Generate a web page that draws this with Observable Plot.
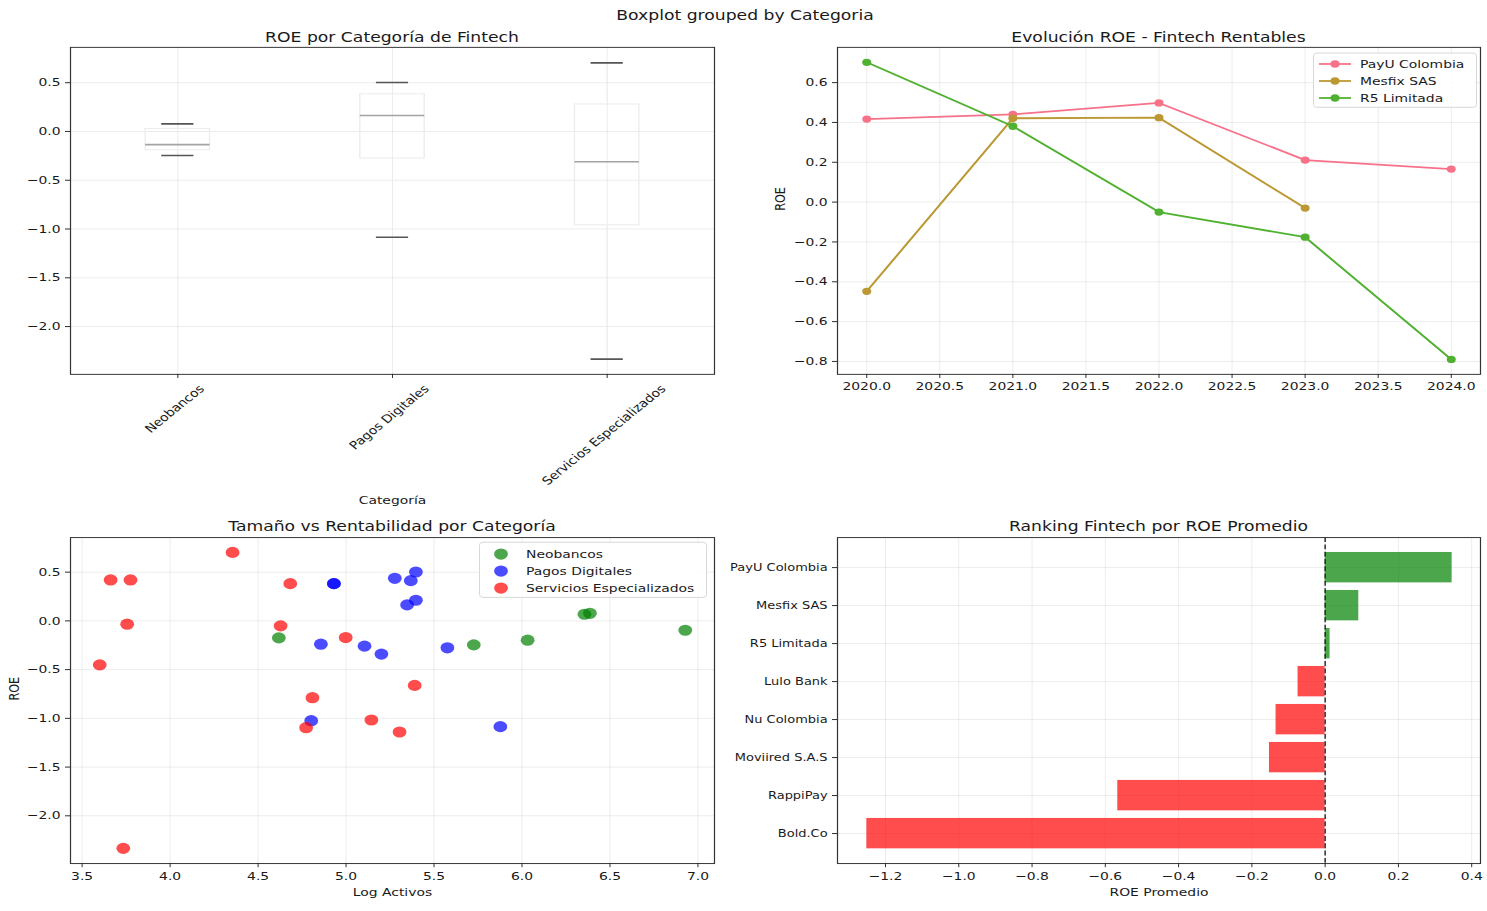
<!DOCTYPE html>
<html><head><meta charset="utf-8">
<script src="https://cdn.jsdelivr.net/npm/d3@7"></script>
<script src="https://cdn.jsdelivr.net/npm/@observablehq/plot@0.6"></script>
<style>
body{margin:0;background:#fff;}
#fig{position:relative;width:1487px;height:911px;overflow:hidden;background:#fff;}
#inner{position:absolute;left:0;top:0;width:1487px;transform-origin:0 0;font-family:"DejaVu Sans",sans-serif;color:#1a1a1a;}
.ttl{position:absolute;font-size:17.2px;line-height:20px;white-space:nowrap;transform:translate(-50%,-50%);}
.legend{position:absolute;background:rgba(255,255,255,0.85);border:1px solid #d4d4d4;border-radius:4px;box-sizing:border-box;font-size:13.9px;}
.legend .row{position:absolute;left:0;height:20px;line-height:20px;white-space:nowrap;}
.legend svg{position:absolute;left:0;top:0;}
.legend span{position:absolute;left:46px;top:0;}
</style></head><body><div id="fig"><div id="inner"></div></div>
<script>
// ---------- DATA ----------
const categories = ["Neobancos", "Pagos Digitales", "Servicios Especializados"];
const categoryColors = ["#008000", "#0000ff", "#ff0000"];

const neoLogActivos = [4.618, 5.726, 6.032, 6.355, 6.386, 6.928];
const neoROE = [-0.174, -0.246, -0.198, 0.068, 0.078, -0.096];
const pagosLogActivos = [4.931, 4.931, 5.277, 5.397, 5.368, 5.397, 5.347, 4.857, 5.105, 5.201, 5.576, 4.802, 5.877];
const pagosROE = [0.382, 0.382, 0.437, 0.502, 0.413, 0.212, 0.164, -0.239, -0.259, -0.341, -0.276, -1.024, -1.085];
const servLogActivos = [4.355, 3.662, 3.775, 4.683, 3.756, 4.628, 4.998, 3.600, 5.390, 4.809, 5.144, 4.773, 5.304, 3.734];
const servROE = [0.703, 0.420, 0.420, 0.382, -0.034, -0.051, -0.171, -0.451, -0.662, -0.788, -1.017, -1.096, -1.140, -2.334];

const seriesNames = ["PayU Colombia", "Mesfix SAS", "R5 Limitada"];
const seriesColors = ["#f77189", "#bb9832", "#50b131"];
const payuYears = [2020, 2021, 2022, 2023, 2024];
const payuROE = [0.417, 0.441, 0.498, 0.211, 0.166];
const mesfixYears = [2020, 2021, 2022, 2023];
const mesfixROE = [-0.448, 0.421, 0.424, -0.030];
const r5Years = [2020, 2021, 2022, 2023, 2024];
const r5ROE = [0.702, 0.381, -0.050, -0.176, -0.790];

const rankingNames = ["PayU Colombia", "Mesfix SAS", "R5 Limitada", "Lulo Bank", "Nu Colombia", "Moviired S.A.S", "RappiPay", "Bold.Co"];
const rankingROE = [0.3466, 0.0918, 0.0134, -0.074, -0.134, -0.152, -0.566, -1.251];

const boxYTicks = [-2.0, -1.5, -1.0, -0.5, 0.0, 0.5];
const lineXTicks = [2020, 2020.5, 2021, 2021.5, 2022, 2022.5, 2023, 2023.5, 2024];
const lineYTicks = [-0.8, -0.6, -0.4, -0.2, 0.0, 0.2, 0.4, 0.6];
const scatterXTicks = [3.5, 4.0, 4.5, 5.0, 5.5, 6.0, 6.5, 7.0];
const scatterYTicks = [-2.0, -1.5, -1.0, -0.5, 0.0, 0.5];
const barXTicks = [-1.2, -1.0, -0.8, -0.6, -0.4, -0.2, 0.0, 0.2, 0.4];

// ---------- LAYOUT HELPERS ----------
// The reference figure is vertically compressed; draw at full height and squash.
const S = 0.81;
const Y = v => v / S;
const inner = document.getElementById("inner");
inner.style.height = Y(911) + "px";
inner.style.transform = `scale(1, ${S})`;

const fmt1 = d3.format(".1f");
const FONT = '"DejaVu Sans", sans-serif';
const style = {fontFamily: FONT, fontSize: "13.9px", color: "#1a1a1a", background: "transparent"};
const gridStyle = {stroke: "#000", strokeOpacity: 0.085, strokeWidth: 1};
const TICK = {tickSize: 5, tickPadding: 4.9};
function box(top, bottom, frameTop, frameBottom) {
  return {top: Y(top), height: Y(bottom) - Y(top), marginTop: Y(frameTop) - Y(top), marginBottom: Y(bottom) - Y(frameBottom)};
}
function place(svg, left, top) {
  svg.style.position = "absolute"; svg.style.left = left + "px"; svg.style.top = top + "px";
  svg.style.maxWidth = "none";
  inner.appendChild(svg);
}
function title(text, cx, cy) { const d = document.createElement("div"); d.className = "ttl"; d.textContent = text; d.style.left = cx + "px"; d.style.top = Y(cy) + "px"; inner.appendChild(d); }
function legend(left, top, w, h, names, drawSwatch, rowCenters) {
  const b = document.createElement("div"); b.className = "legend";
  Object.assign(b.style, {left: left + "px", top: Y(top) + "px", width: w + "px", height: Y(h) + "px"});
  names.forEach((n, i) => {
    const row = document.createElement("div"); row.className = "row";
    row.style.top = (Y(rowCenters[i]) - Y(top) - 10) + "px"; row.style.width = w + "px";
    row.innerHTML = `<svg width="44" height="20">${drawSwatch(i)}</svg><span>${n}</span>`;
    b.appendChild(row);
  });
  inner.appendChild(b);
}

// ---------- PANEL 1: BOXPLOT ----------
const roeByCat = [neoROE, pagosROE, servROE];
function stats(vals) {
  const s = d3.sort(vals);
  const q1 = d3.quantileSorted(s, 0.25), med = d3.quantileSorted(s, 0.5), q3 = d3.quantileSorted(s, 0.75);
  const iqr = q3 - q1;
  return {q1, med, q3, lo: d3.min(s.filter(v => v >= q1 - 1.5 * iqr)), hi: d3.max(s.filter(v => v <= q3 + 1.5 * iqr))};
}
const boxStats = categories.map((c, i) => ({cat: c, pos: i + 1, ...stats(roeByCat[i])}));
const ctx = document.createElement("canvas").getContext("2d");
ctx.font = '13.9px "DejaVu Sans"';
const catLabelMarks = categories.map((c, i) => {
  const L = ctx.measureText(c).width;
  const dy = 13 + (L + 16) * Math.SQRT1_2 / 2;
  return Plot.text([c], {x: () => i + 1, frameAnchor: "bottom", dy, rotate: -45, text: d => d, textAnchor: "middle", fontSize: 13.9, fill: "#1a1a1a"});
});
const b1 = box(30, 515, 47, 374);
place(Plot.plot({
  width: 730, height: b1.height, marginLeft: 70, marginRight: 16, marginTop: b1.marginTop, marginBottom: b1.marginBottom,
  style,
  x: {domain: [0.5, 3.5], label: null},
  y: {domain: [-2.49, 0.862], label: null},
  marks: [
    Plot.gridX(boxStats.map(d => d.pos), gridStyle),
    Plot.gridY(boxYTicks, gridStyle),
    Plot.ruleX(boxStats, {x: "pos", y1: "lo", y2: "q1", stroke: "#ececec"}),
    Plot.ruleX(boxStats, {x: "pos", y1: "q3", y2: "hi", stroke: "#ececec"}),
    Plot.rect(boxStats, {x1: d => d.pos - 0.15, x2: d => d.pos + 0.15, y1: "q1", y2: "q3", fill: "none", stroke: "#ececec", strokeWidth: 1.3}),
    Plot.ruleY(boxStats, {y: "med", x1: d => d.pos - 0.15, x2: d => d.pos + 0.15, stroke: "#a3a3a3", strokeWidth: 2}),
    Plot.ruleY(boxStats, {y: "lo", x1: d => d.pos - 0.075, x2: d => d.pos + 0.075, stroke: "#555", strokeWidth: 2}),
    Plot.ruleY(boxStats, {y: "hi", x1: d => d.pos - 0.075, x2: d => d.pos + 0.075, stroke: "#555", strokeWidth: 2}),
    Plot.frame({stroke: "#333", strokeWidth: 1.2}),
    Plot.axisY({ticks: boxYTicks, tickFormat: fmt1, ...TICK, label: null}),
    Plot.axisX({ticks: boxStats.map(d => d.pos), tickFormat: () => "", ...TICK, label: null}),
    ...catLabelMarks,
    Plot.text(["Categoría"], {frameAnchor: "bottom", dy: Y(504) - Y(374), text: d => d, fontSize: 13.9, fill: "#1a1a1a"})
  ]
}), 0, b1.top);

// ---------- PANEL 2: LINES ----------
const seriesData = [
  payuYears.map((y, i) => ({series: seriesNames[0], year: y, roe: payuROE[i]})),
  mesfixYears.map((y, i) => ({series: seriesNames[1], year: y, roe: mesfixROE[i]})),
  r5Years.map((y, i) => ({series: seriesNames[2], year: y, roe: r5ROE[i]}))
];
const b2 = box(30, 405, 47, 374);
place(Plot.plot({
  width: 727, height: b2.height, marginLeft: 77, marginRight: 7, marginTop: b2.marginTop, marginBottom: b2.marginBottom,
  style,
  x: {domain: [2019.8, 2024.2], label: null},
  y: {domain: [-0.865, 0.777], label: null},
  marks: [
    Plot.gridX(lineXTicks, gridStyle),
    Plot.gridY(lineYTicks, gridStyle),
    ...seriesData.flatMap((data, i) => [
      Plot.line(data, {x: "year", y: "roe", stroke: seriesColors[i], strokeWidth: 2.2}),
      Plot.dot(data, {x: "year", y: "roe", fill: seriesColors[i], r: 4.5})
    ]),
    Plot.frame({stroke: "#333", strokeWidth: 1.2}),
    Plot.axisY({ticks: lineYTicks, tickFormat: fmt1, ...TICK, label: null}),
    Plot.axisX({ticks: lineXTicks, tickFormat: fmt1, ...TICK, label: null}),
    Plot.text(["ROE"], {frameAnchor: "left", dx: -57, rotate: -90, text: d => d, fontSize: 13.9, fill: "#1a1a1a"})
  ]
}), 760, b2.top);

// ---------- PANEL 3: SCATTER ----------
const xs = [neoLogActivos, pagosLogActivos, servLogActivos];
const ys = [neoROE, pagosROE, servROE];
const scatterData = categories.flatMap((c, k) => xs[k].map((x, i) => ({cat: c, x, roe: ys[k][i], color: categoryColors[k]})));
const b3 = box(515, 911, 537, 863);
place(Plot.plot({
  width: 730, height: b3.height, marginLeft: 70, marginRight: 16, marginTop: b3.marginTop, marginBottom: b3.marginBottom,
  style,
  x: {domain: [3.434, 7.094], label: null},
  y: {domain: [-2.49, 0.855], label: null},
  marks: [
    Plot.gridX(scatterXTicks, gridStyle),
    Plot.gridY(scatterYTicks, gridStyle),
    Plot.dot(scatterData, {x: "x", y: "roe", fill: "color", fillOpacity: 0.7, r: 6.9}),
    Plot.frame({stroke: "#333", strokeWidth: 1.2}),
    Plot.axisY({ticks: scatterYTicks, tickFormat: fmt1, ...TICK, label: null}),
    Plot.axisX({ticks: scatterXTicks, tickFormat: fmt1, ...TICK, label: null}),
    Plot.text(["Log Activos"], {frameAnchor: "bottom", dy: Y(895) - Y(863), text: d => d, fontSize: 13.9, fill: "#1a1a1a"}),
    Plot.text(["ROE"], {frameAnchor: "left", dx: -56, rotate: -90, text: d => d, fontSize: 13.9, fill: "#1a1a1a"})
  ]
}), 0, b3.top);

// ---------- PANEL 4: BARS ----------
const rankData = rankingNames.map((n, i) => ({name: n, roe: rankingROE[i]}));
const b4 = box(515, 911, 537, 863);
place(Plot.plot({
  width: 767, height: b4.height, marginLeft: 117, marginRight: 7, marginTop: b4.marginTop, marginBottom: b4.marginBottom,
  style,
  x: {domain: [-1.331, 0.424], label: null},
  y: {domain: rankingNames, paddingInner: 0.2, paddingOuter: 0.39, round: false, label: null},
  marks: [
    Plot.gridX(barXTicks, gridStyle),
    Plot.gridY(rankingNames, gridStyle),
    Plot.barX(rankData, {x: "roe", y: "name", fill: d => d.roe > 0 ? "#008000" : "#ff0000", fillOpacity: 0.7}),
    Plot.ruleX([0], {stroke: "#222", strokeWidth: 1.4, strokeDasharray: "6,3"}),
    Plot.frame({stroke: "#333", strokeWidth: 1.2}),
    Plot.axisY({...TICK, fontSize: 13, label: null}),
    Plot.axisX({ticks: barXTicks, tickFormat: fmt1, ...TICK, label: null}),
    Plot.text(["ROE Promedio"], {frameAnchor: "bottom", dy: Y(895) - Y(863), text: d => d, fontSize: 13.9, fill: "#1a1a1a"})
  ]
}), 720, b4.top);

// ---------- TITLES & LEGENDS ----------
title("Boxplot grouped by Categoria", 745, 15);
title("ROE por Categoría de Fintech", 392, 37);
title("Evolución ROE - Fintech Rentables", 1158.5, 37);
title("Tamaño vs Rentabilidad por Categoría", 392, 526);
title("Ranking Fintech por ROE Promedio", 1158.5, 526);
legend(1313, 53, 164, 55, seriesNames,
  i => `<line x1="5" x2="37" y1="10" y2="10" stroke="${seriesColors[i]}" stroke-width="2.2"/><circle cx="21" cy="10" r="4.5" fill="${seriesColors[i]}"/>`,
  [63, 80, 97]);
legend(479, 542, 228, 56, categories,
  i => `<circle cx="21" cy="10" r="6.9" fill="${categoryColors[i]}" fill-opacity="0.7"/>`,
  [553, 570, 587]);
</script></body></html>
